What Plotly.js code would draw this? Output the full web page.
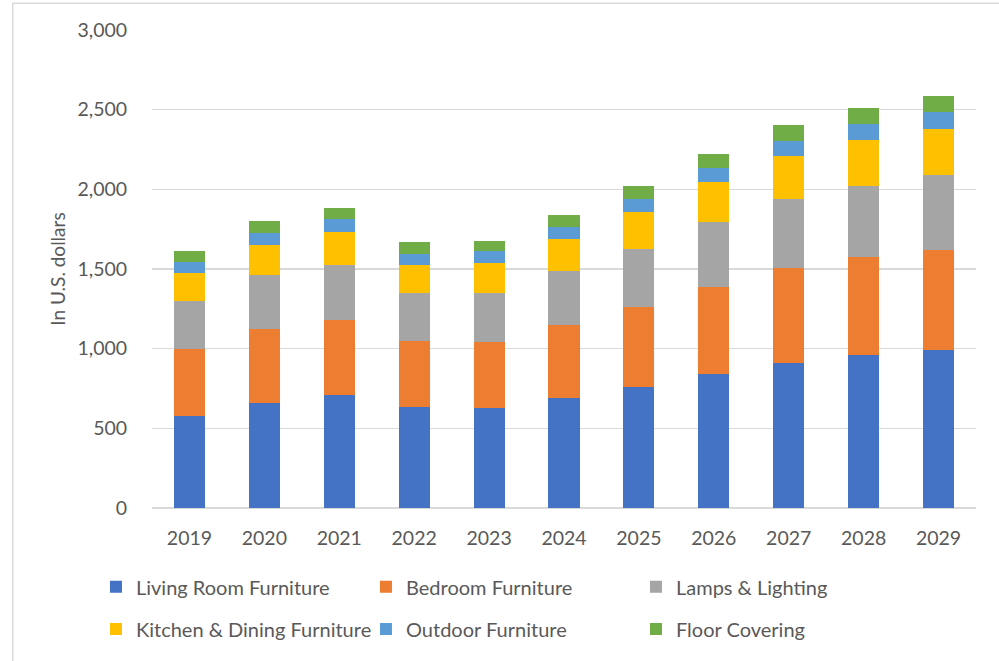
<!DOCTYPE html>
<html>
<head>
<meta charset="utf-8">
<script src="https://cdn.plot.ly/plotly-3.0.1.min.js"></script>
<style>
html,body{margin:0;padding:0;background:#fff;}
#chart{width:999px;height:661px;}
</style>
</head>
<body>
<div id="chart"></div>
<script>
const years = ['2019','2020','2021','2022','2023','2024','2025','2026','2027','2028','2029'];
const livingRoom = [580, 656, 711, 631, 630, 693, 760, 844, 908, 958, 992];
const bedroom = [420, 470, 471, 415, 413, 457, 504, 545, 596, 615, 625];
const lamps = [300, 335, 342, 302, 309, 336, 364, 403, 433, 451, 472];
const kitchen = [172, 192, 211, 180, 188, 205, 227, 252, 270, 283, 288];
const outdoor = [69, 76, 76, 69, 70, 75, 82, 88, 94, 101, 106];
const floorCovering = [69, 75, 75, 70, 63, 76, 81, 88, 100, 100, 100];
const seriesNames = ['Living Room Furniture','Bedroom Furniture','Lamps & Lighting','Kitchen & Dining Furniture','Outdoor Furniture','Floor Covering'];
const seriesValues = [livingRoom, bedroom, lamps, kitchen, outdoor, floorCovering];
const colors = ['#4472C4','#ED7D31','#A5A5A5','#FFC000','#5B9BD5','#70AD47'];

const traces = seriesValues.map((vals, i) => ({
  type: 'bar',
  name: seriesNames[i],
  x: years,
  y: vals,
  marker: {color: colors[i], line: {width: 0}},
  legend: i < 3 ? 'legend' : 'legend2',
  hoverinfo: 'x+y+name'
}));

const fontFam = 'Lato, "Open Sans", sans-serif';
const legendCommon = {
  orientation: 'h',
  xref: 'paper', yref: 'paper',
  xanchor: 'left', yanchor: 'middle',
  x: -0.068,
  entrywidth: 225, entrywidthmode: 'pixels',
  itemwidth: 30,
  font: {family: fontFam, size: 20, color: '#595959'},
  bgcolor: 'rgba(0,0,0,0)',
  traceorder: 'normal'
};

const layout = {
  width: 999, height: 661,
  margin: {l: 152, r: 23, t: 30, b: 153},
  paper_bgcolor: '#ffffff',
  plot_bgcolor: '#ffffff',
  barmode: 'stack',
  bargap: 0.585,
  showlegend: true,
  font: {family: fontFam, color: '#595959'},
  xaxis: {
    type: 'category',
    showgrid: false,
    showline: false,
    zeroline: false,
    ticks: 'outside', ticklen: 13, tickcolor: 'rgba(0,0,0,0)',
    tickfont: {family: fontFam, size: 19.5, color: '#595959'},
    fixedrange: true
  },
  yaxis: {
    range: [0, 3000],
    dtick: 500,
    tickformat: ',d',
    showgrid: true,
    gridcolor: '#d9d9d9', gridwidth: 1.5,
    zeroline: true, zerolinecolor: '#d9d9d9', zerolinewidth: 1.5,
    showline: false,
    ticks: 'outside', ticklen: 20, tickcolor: 'rgba(0,0,0,0)',
    tickfont: {family: fontFam, size: 19.5, color: '#595959'},
    title: {text: 'In U.S. dollars', font: {family: fontFam, size: 19, color: '#595959'}, standoff: 6},
    fixedrange: true
  },
  legend: Object.assign({}, legendCommon, {y: -0.165}),
  legend2: Object.assign({}, legendCommon, {y: -0.253}),
  shapes: [{
    type: 'rect', xref: 'paper', yref: 'paper',
    x0: -0.169, x1: 1.2, y0: -0.5, y1: 1.056,
    line: {color: '#d9d9d9', width: 1.5},
    fillcolor: 'rgba(0,0,0,0)', layer: 'below'
  }]
};

Plotly.newPlot('chart', traces, layout, {displayModeBar: false, staticPlot: true});
</script>
</body>
</html>
